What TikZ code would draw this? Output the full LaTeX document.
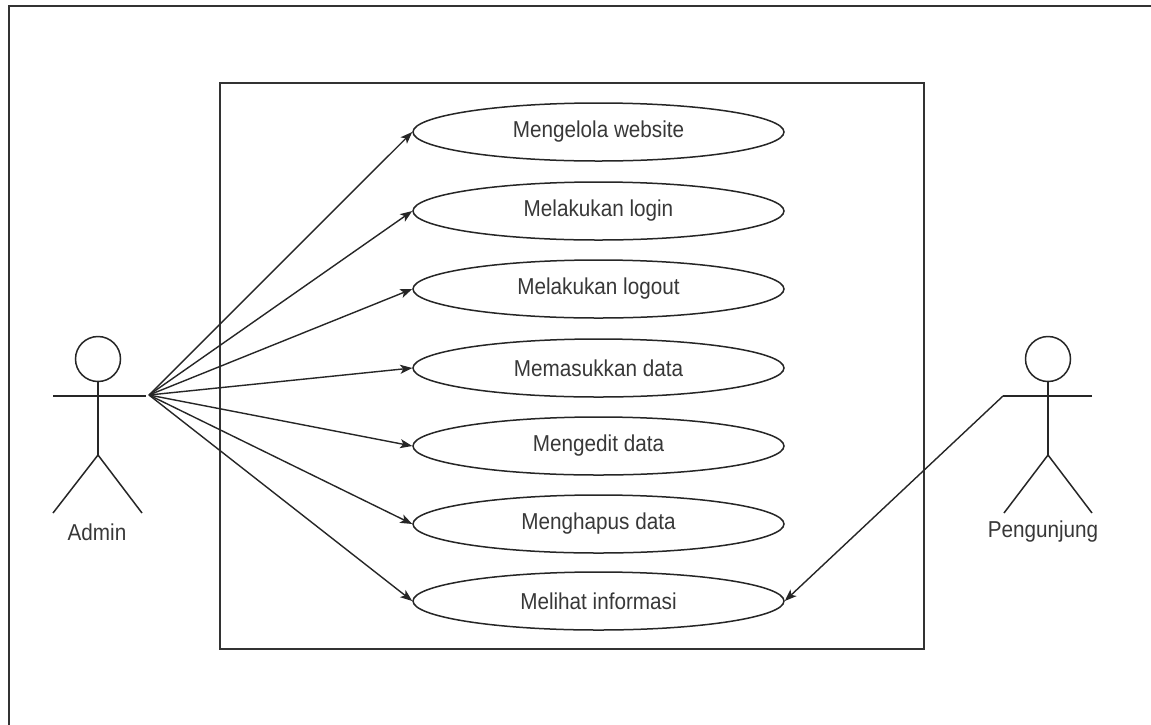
\documentclass[tikz,border=0pt]{standalone}
\usepackage{fontspec}
\usepackage{graphicx}
\setmainfont{Liberation Sans}
\usetikzlibrary{arrows.meta,shapes.geometric}
% labels are set slightly condensed
\newcommand{\narrowtext}[1]{\scalebox{0.9}[1]{#1}}
\begin{document}
\begin{tikzpicture}[x=1pt,y=-1pt,
  usecase/.style={ellipse,draw=black!85,line width=1.5pt,minimum width=371pt,
    minimum height=58pt,inner sep=0pt,font=\fontsize{23}{27}\selectfont,text=black!78},
  frame/.style={draw=black!80,line width=1.7pt},
  limb/.style={draw=black!85,line width=1.5pt},
  head/.style={circle,draw=black!85,line width=1.5pt,minimum size=45pt,inner sep=0pt},
  assoc/.style={draw=black!85,line width=1.4pt,-{Stealth[length=12pt,width=9pt,inset=3pt]}},
  lbl/.style={font=\fontsize{23}{27}\selectfont,text=black!78,inner sep=0pt}]
\useasboundingbox (0,0) rectangle (1151,724);
\clip (0,0) rectangle (1151,724);
\fill[white] (0,0) rectangle (1151,724);

% page frame and system boundary
\draw[frame] (9,6) rectangle (1175,745);
\draw[frame] (220,83) rectangle (924,649);

% use cases
\node[usecase] (uc1) at (598.5,132) {\narrowtext{Mengelola website}};
\node[usecase] (uc2) at (598.5,211) {\narrowtext{Melakukan login}};
\node[usecase] (uc3) at (598.5,289) {\narrowtext{Melakukan logout}};
\node[usecase] (uc4) at (598.5,368) {\narrowtext{Memasukkan data}};
\node[usecase] (uc5) at (598.5,446) {\narrowtext{Mengedit data}};
\node[usecase] (uc6) at (598.5,524) {\narrowtext{Menghapus data}};
\node[usecase] (uc7) at (598.5,601) {\narrowtext{Melihat informasi}};

% actor: Admin
\node[head] (adminhead) at (98,359) {};
\draw[limb] (adminhead.south) -- (98,455);
\draw[limb] (53,396) -- (146,396);
\draw[limb] (53,513) -- (98,455) -- (142,513);
\coordinate (adminhand) at (149,395);
\node[lbl] (admin) at (97,532) {\narrowtext{Admin}};

% actor: Pengunjung
\node[head] (visitorhead) at (1048,359) {};
\draw[limb] (visitorhead.south) -- (1048,455);
\draw[limb] (1092,396) -- (1003,396);
\draw[limb] (1004,513) -- (1048,455) -- (1092,513);
\coordinate (visitorhand) at (1003,396);
\node[lbl] (visitor) at (1043,532) {\narrowtext{Pengunjung}};

% associations
\foreach \u in {uc1,uc2,uc3,uc4,uc5,uc6,uc7}
  \draw[assoc] (adminhand) -- (\u.west);
\draw[assoc] (visitorhand) -- (uc7.east);
\end{tikzpicture}
\end{document}
